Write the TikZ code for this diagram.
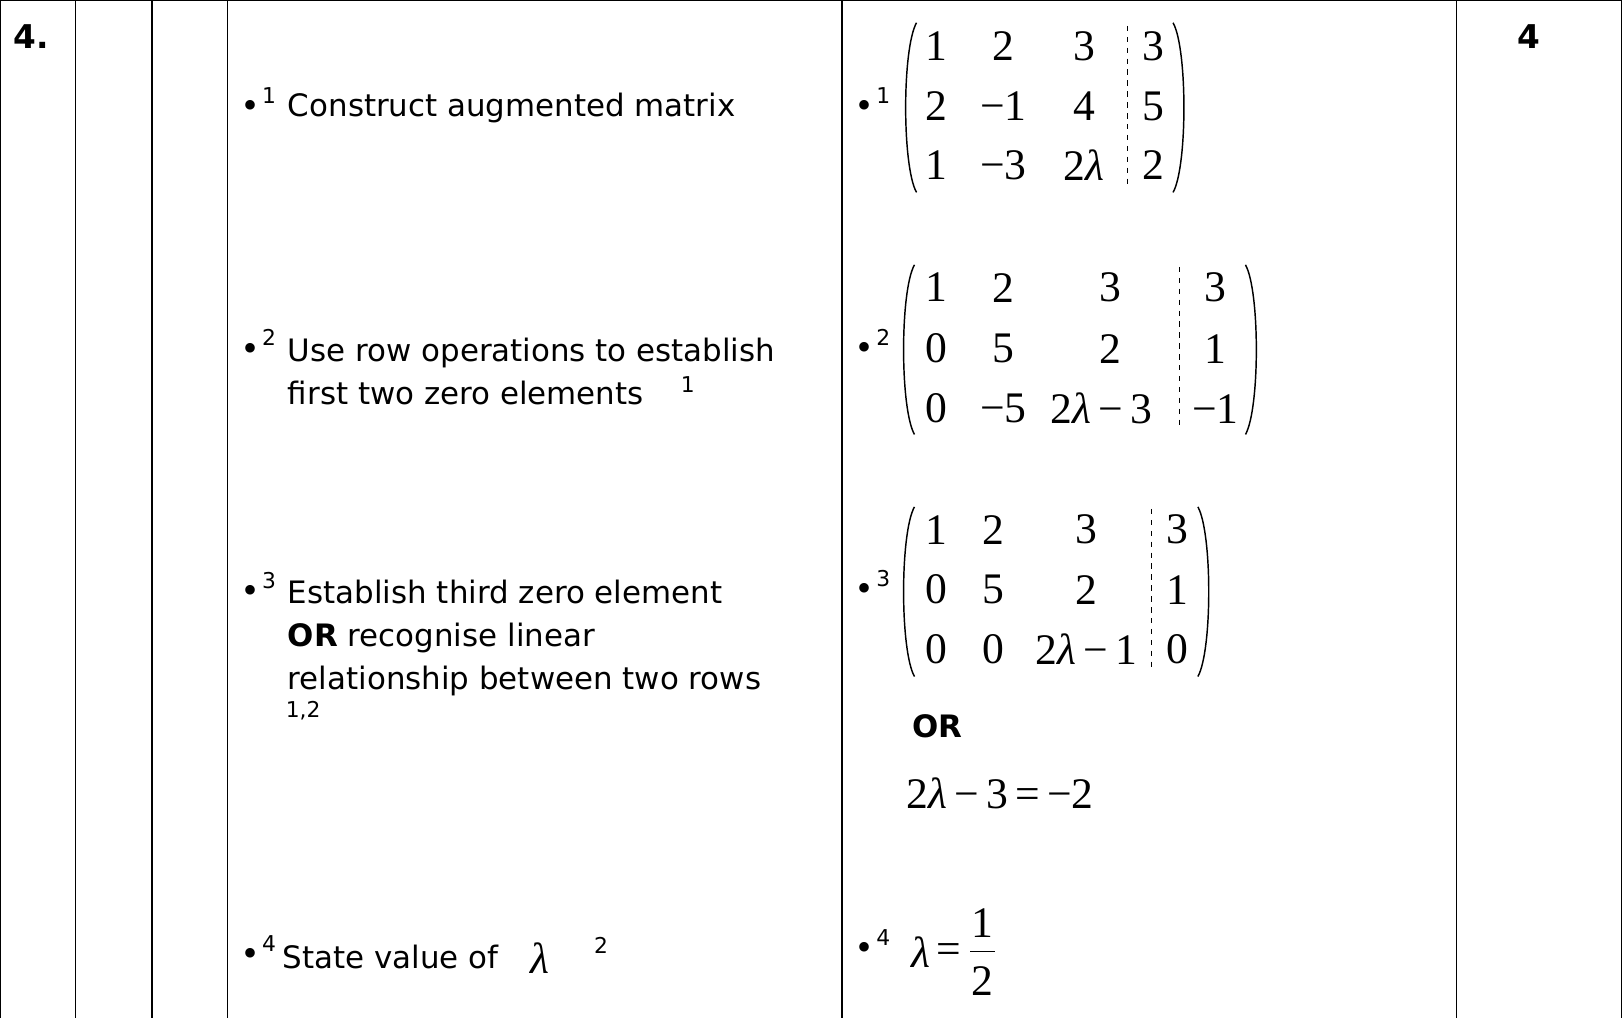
\documentclass[tikz,border=0pt]{standalone}
\usepackage{fontspec}
\setmainfont{DejaVu Sans}
\newfontfamily\mfont{Liberation Serif}
\tikzset{
 txt/.style={anchor=base west,inner sep=0pt,font=\fontsize{17}{20}\selectfont},
 ent/.style={inner sep=0pt,font=\mfont\fontsize{24}{28}\selectfont},
 sup/.style={inner sep=0pt,font=\fontsize{12}{14}\selectfont},
 blt/.style={inner sep=0pt,font=\mfont\fontsize{22}{24}\selectfont}
}
\newcommand\mparen[4]{% left x, right x, top y, bottom y
 \draw[thick] (#1+8,#3) .. controls (#1-6,#3+25) and (#1-6,#4-25) .. (#1+8,#4);
 \draw[thick] (#2-8,#3) .. controls (#2+6,#3+25) and (#2+6,#4-25) .. (#2-8,#4);}
\newcommand\lam{\textit{λ}}
\begin{document}
\begin{tikzpicture}[x=0.02cm,y=-0.02cm]
\useasboundingbox (0,0) rectangle (1568,984);
% grid
\draw[thick] (0,0) -- (1568,0);
\foreach \x in {0,73,147,220,814,1408,1568} \draw[thick] (\x,0) -- (\x,984);
\node[font=\bfseries\fontsize{18}{20}\selectfont] (qn) at (30,35) {4.};
\node[font=\bfseries\fontsize{18}{20}\selectfont] (mk) at (1478,35) {4};
% left column
\node[blt] (b1) at (242,106) {•}; \node[sup] (s1) at (260,92) {1};
\node[txt] (t1) at (278,113) {Construct augmented matrix};
\node[blt] (b2) at (242,341) {•}; \node[sup] (s2) at (260,326) {2};
\node[txt] (t2a) at (278,349) {Use row operations to establish};
\node[txt] (t2b) at (278,391) {first two zero elements};
\node[sup] (s2b) at (665,372) {1};
\node[blt] (b3) at (242,575) {•}; \node[sup] (s3) at (260,561) {3};
\node[txt] (t3a) at (278,583) {Establish third zero element};
\node[txt] (t3b) at (278,625) {\textbf{OR} recognise linear};
\node[txt] (t3c) at (278,667) {relationship between two rows};
\node[sup] (s3b) at (293,687) {1,2};
\node[blt] (b4) at (242,926) {•}; \node[sup] (s4) at (260,912) {4};
\node[txt] (t4) at (273,936) {State value of};
\node[ent] (l4) at (522,926) {\lam};
\node[sup] (s4b) at (581,914) {2};
% right column bullets
\foreach \y/\n in {106/1,340/2,573/3,920/4}{
 \node[blt] (rb\n) at (836,\y) {•};
 \node[sup] (rs\n) at (854,\y-14) {\n};}
% matrix 1
\foreach \c/\x in {1/905,2/970,3/1048,4/1115}
 \foreach \r/\y in {1/45,2/103,3/160} {}
\node[ent] at (905,45) {1}; \node[ent] at (970,45) {2}; \node[ent] at (1048,45) {3}; \node[ent] at (1115,45) {3};
\node[ent] at (905,103) {2}; \node[ent] at (970,103) {−1}; \node[ent] at (1048,103) {4}; \node[ent] at (1115,103) {5};
\node[ent] at (905,160) {1}; \node[ent] at (970,160) {−3}; \node[ent] at (1048,160) {2\lam}; \node[ent] at (1115,160) {2};
\draw[dashed] (1090,25) -- (1090,180);
\mparen{878}{1142}{22}{186}
% matrix 2
\node[ent] at (905,278) {1}; \node[ent] at (970,278) {2}; \node[ent] at (1073,278) {3}; \node[ent] at (1175,278) {3};
\node[ent] at (905,337) {0}; \node[ent] at (970,337) {5}; \node[ent] at (1073,337) {2}; \node[ent] at (1175,337) {1};
\node[ent] at (905,395) {0}; \node[ent] at (970,395) {−5}; \node[ent] at (1065,395) {2\lam\,−\,3}; \node[ent] at (1175,395) {−1};
\draw[dashed] (1140,258) -- (1140,415);
\mparen{876}{1212}{256}{420}
% matrix 3
\node[ent] at (905,512) {1}; \node[ent] at (960,512) {2}; \node[ent] at (1050,512) {3}; \node[ent] at (1138,512) {3};
\node[ent] at (905,570) {0}; \node[ent] at (960,570) {5}; \node[ent] at (1050,570) {2}; \node[ent] at (1138,570) {1};
\node[ent] at (905,628) {0}; \node[ent] at (960,628) {0}; \node[ent] at (1050,628) {2\lam\,−\,1}; \node[ent] at (1138,628) {0};
\draw[dashed] (1113,492) -- (1113,648);
\mparen{876}{1166}{490}{654}
% alternatives
\node[font=\bfseries\fontsize{17}{20}\selectfont] (or) at (906,702) {OR};
\node[ent,anchor=west] (eq) at (876,767) {2\lam\,−\,3\,=\,−2};
\node[ent] (l) at (890,920) {\lam};
\node[ent] (eqs) at (917,922) {=};
\node[ent] (n1) at (950,892) {1};
\node[ent] (n2) at (950,948) {2};
\draw[thick] (938,920) -- (962,920);
\end{tikzpicture}
\end{document}
